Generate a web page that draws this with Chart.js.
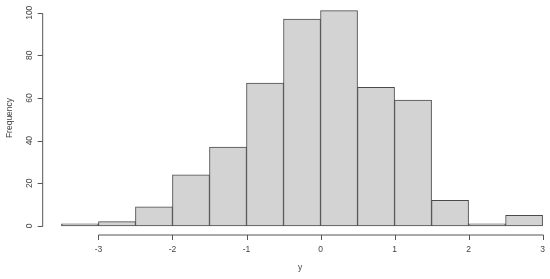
<!DOCTYPE html>
<html>
<head>
<meta charset="utf-8">
<script src="https://cdn.jsdelivr.net/npm/chart.js@4/dist/chart.umd.min.js"></script>
<style>
html,body{margin:0;padding:0;background:#fff;}
canvas{display:block;}
</style>
</head>
<body>
<canvas id="c" width="550" height="279"></canvas>
<script>
const binStarts = [-3.5,-3,-2.5,-2,-1.5,-1,-0.5,0,0.5,1,1.5,2,2.5];
const binWidth = 0.5;
const counts = [1,2,9,24,37,67,97,101,65,59,12,1,5];
const xTicks = [-3,-2,-1,0,1,2,3];
const yTicks = [0,20,40,60,80,100];
const xTitle = 'y';
const yTitle = 'Frequency';

const points = binStarts.map((s,i)=>({x: s + binWidth/2, y: counts[i]}));

const FONT = '8.5px "Liberation Sans", Arial, sans-serif';
const AX = '#555';
const TXT = '#444';

const rAxes = {
  id: 'rAxes',
  afterDraw(chart){
    const ctx = chart.ctx;
    const xs = chart.scales.x, ys = chart.scales.y;
    const axisY = chart.chartArea.bottom + 0.5;
    const axisX = chart.chartArea.left + 0.5;
    ctx.save();
    ctx.strokeStyle = AX;
    ctx.lineWidth = 1;
    ctx.fillStyle = TXT;
    ctx.font = FONT;
    // x axis
    const x0 = Math.round(xs.getPixelForValue(xTicks[0])) + 0.5;
    const x1 = Math.round(xs.getPixelForValue(xTicks[xTicks.length-1])) + 0.5;
    ctx.beginPath();
    ctx.moveTo(x0, axisY); ctx.lineTo(x1, axisY);
    xTicks.forEach(t=>{
      const px = Math.round(xs.getPixelForValue(t)) + 0.5;
      ctx.moveTo(px, axisY); ctx.lineTo(px, axisY + 5);
    });
    ctx.stroke();
    ctx.textAlign = 'center';
    ctx.textBaseline = 'middle';
    xTicks.forEach(t=>{
      ctx.fillText(String(t), xs.getPixelForValue(t), 250);
    });
    ctx.fillText(xTitle, 300, 268);
    // y axis
    const y0 = Math.round(ys.getPixelForValue(yTicks[0])) + 0.5;
    const y1 = Math.round(ys.getPixelForValue(yTicks[yTicks.length-1])) + 0.5;
    ctx.beginPath();
    ctx.moveTo(axisX, y0); ctx.lineTo(axisX, y1);
    yTicks.forEach(t=>{
      const py = Math.round(ys.getPixelForValue(t)) + 0.5;
      ctx.moveTo(axisX, py); ctx.lineTo(axisX - 5, py);
    });
    ctx.stroke();
    yTicks.forEach(t=>{
      ctx.save();
      ctx.translate(30, ys.getPixelForValue(t));
      ctx.rotate(-Math.PI/2);
      ctx.fillText(String(t), 0, 0);
      ctx.restore();
    });
    ctx.save();
    ctx.translate(10, 118);
    ctx.rotate(-Math.PI/2);
    ctx.fillText(yTitle, 0, 0);
    ctx.restore();
    ctx.restore();
  }
};

new Chart(document.getElementById('c'), {
  type: 'bar',
  data: {
    datasets: [{
      data: points,
      backgroundColor: '#d3d3d3',
      borderColor: '#4a4a4a',
      borderWidth: 1,
      borderSkipped: false,
      barPercentage: 1,
      categoryPercentage: 1
    }]
  },
  options: {
    responsive: false,
    animation: false,
    layout: { padding: { left: 42.2, right: 0, top: 2, bottom: 44.5 } },
    plugins: { legend: { display: false }, tooltip: { enabled: false } },
    scales: {
      x: { type: 'linear', min: -3.76, max: 3.1, display: false, offset: false },
      y: { type: 'linear', min: -4.04, max: 105.04, display: false }
    }
  },
  plugins: [rAxes]
});
</script>
</body>
</html>
